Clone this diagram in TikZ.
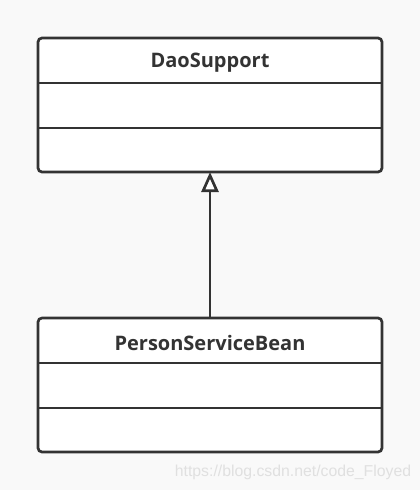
\documentclass[tikz,border=0pt]{standalone}
\usepackage{fontspec}
\setmainfont{Open Sans}
\newfontfamily\wmfont{Liberation Sans}
\usetikzlibrary{arrows.meta}
\definecolor{ink}{HTML}{333333}
\definecolor{bg}{HTML}{F9F9F9}
\definecolor{wm}{HTML}{E0E0E0}
\begin{document}
\begin{tikzpicture}[x=1pt,y=-1pt,
  classbox/.style={draw=ink,fill=white,line width=2.7pt,rounded corners=4pt},
  divider/.style={draw=ink,line width=2.7pt},
  title/.style={text=ink,font=\bfseries\fontsize{20}{22}\selectfont,inner sep=0pt},
  inherit/.style={draw=ink,line width=2.7pt,-{Triangle[open,length=20pt,width=17pt,fill=white]}}]
\useasboundingbox[fill=bg] (0,0) rectangle (420,490);
% DaoSupport
\draw[classbox] (38,38) rectangle (382,172);
\coordinate (topbot) at (210,172);
\draw[divider] (38,83) -- (382,83);
\draw[divider] (38,128) -- (382,128);
\node[title] (dao) at (210,63) {DaoSupport};
% PersonServiceBean
\draw[classbox] (38,318) rectangle (382,452);
\coordinate (bottop) at (210,318);
\draw[divider] (38,363) -- (382,363);
\draw[divider] (38,408) -- (382,408);
\node[title] (psb) at (210,343) {PersonServiceBean};
% inheritance
\draw[inherit] (bottop) -- (topbot);
% watermark
\node[text=wm,font=\wmfont\fontsize{15.8}{17}\selectfont,inner sep=0pt] (wmark) at (293,472) {https://blog.csdn.net/code\_Floyed};
\end{tikzpicture}
\end{document}
